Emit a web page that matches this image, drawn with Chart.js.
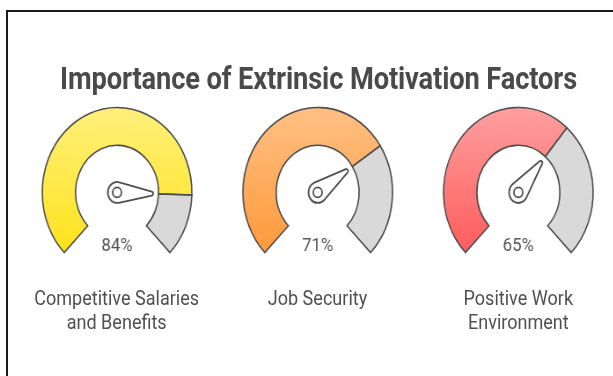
<!DOCTYPE html>
<html>
<head>
<meta charset="utf-8">
<script src="https://cdn.jsdelivr.net/npm/chart.js@4.4.1/dist/chart.umd.min.js"></script>
<style>
  html, body { margin: 0; padding: 0; background: #fff; overflow: hidden; }
  body { width: 613px; height: 376px; position: relative; }
  #frame { position: absolute; left: 6px; top: 10px; width: 640px; height: 400px; border: 2px solid #1a1a1a; }
  /* the source image is squeezed horizontally, so the whole stage is too */
  #stage { position: absolute; left: 0; top: 0; width: 700px; height: 376px; transform: scaleX(0.88); transform-origin: 0 0; }
  #title { position: absolute; top: 61px; left: 0; width: 724px; text-align: center;
           font: bold 31px Roboto, sans-serif; line-height: 36px; color: #4a4a4a; white-space: nowrap;
           letter-spacing: -0.15px; }
  .gauge { position: absolute; top: 80px; }
  .label { position: absolute; top: 286px; width: 260px; text-align: center;
           font: 20.5px Roboto, sans-serif; line-height: 24px; color: #505050; }
</style>
</head>
<body>
<div id="frame"></div>
<div id="stage">
  <div id="title">Importance of Extrinsic Motivation Factors</div>
</div>
<script>
const categories = [['Competitive Salaries', 'and Benefits'], ['Job Security'], ['Positive Work', 'Environment']];
const values = [84, 71, 65];
const topColors = ['#fff07c', '#ffc084', '#ffa0a0'];
const bottomColors = ['#ffe31c', '#ff9a3c', '#ff5c5c'];
const centersX = [132.6, 360.8, 589.0];

const stage = document.getElementById('stage');

const needle = {
  id: 'needle',
  afterDatasetsDraw(chart) {
    const arc = chart.getDatasetMeta(0).data[0];
    const ctx = chart.ctx;
    const x = arc.x, y = arc.y, a = arc.endAngle;
    const r1 = 10.5, r2 = 2, len = 39;
    const tx = x + len * Math.cos(a), ty = y + len * Math.sin(a);
    const phi = Math.acos((r1 - r2) / len);
    ctx.save();
    ctx.beginPath();
    ctx.arc(x, y, r1, a + phi, a - phi + Math.PI * 2);
    ctx.lineTo(tx + r2 * Math.cos(a - phi), ty + r2 * Math.sin(a - phi));
    ctx.arc(tx, ty, r2, a - phi, a + phi);
    ctx.closePath();
    ctx.fillStyle = '#fff';
    ctx.fill();
    ctx.lineWidth = 1.8;
    ctx.strokeStyle = '#4d4d4d';
    ctx.stroke();
    ctx.beginPath();
    ctx.arc(x, y, 5, 0, Math.PI * 2);
    ctx.stroke();

    ctx.fillStyle = '#555';
    ctx.font = '19px Roboto, sans-serif';
    ctx.textAlign = 'center';
    ctx.textBaseline = 'alphabetic';
    ctx.fillText(chart.data.datasets[0].data[0] + '%', x, y + 59);
    ctx.restore();
  }
};

values.forEach((v, i) => {
  const canvas = document.createElement('canvas');
  canvas.width = 220;
  canvas.height = 200;
  canvas.className = 'gauge';
  canvas.style.left = (centersX[i] - 110) + 'px';
  stage.appendChild(canvas);

  const label = document.createElement('div');
  label.className = 'label';
  label.style.left = (centersX[i] - 130) + 'px';
  label.innerHTML = categories[i].join('<br>');
  stage.appendChild(label);

  new Chart(canvas.getContext('2d'), {
    type: 'doughnut',
    data: {
      labels: ['value', 'rest'],
      datasets: [{
        data: [v, 100 - v],
        backgroundColor: (c) => {
          if (c.dataIndex === 1) return '#d9d9d9';
          const area = c.chart.chartArea;
          if (!area) return bottomColors[i];
          const g = c.chart.ctx.createLinearGradient(0, area.top + 27, 0, area.top + 172);
          g.addColorStop(0, topColors[i]);
          g.addColorStop(1, bottomColors[i]);
          return g;
        },
        borderColor: '#4d4d4d',
        borderWidth: 1.6,
        borderJoinStyle: 'miter'
      }]
    },
    options: {
      responsive: false,
      animation: false,
      events: [],
      devicePixelRatio: 1,
      rotation: -135,
      circumference: 270,
      radius: 85,
      cutout: 55,
      plugins: {
        legend: { display: false },
        tooltip: { enabled: false }
      }
    },
    plugins: [needle]
  });
});
</script>
</body>
</html>
